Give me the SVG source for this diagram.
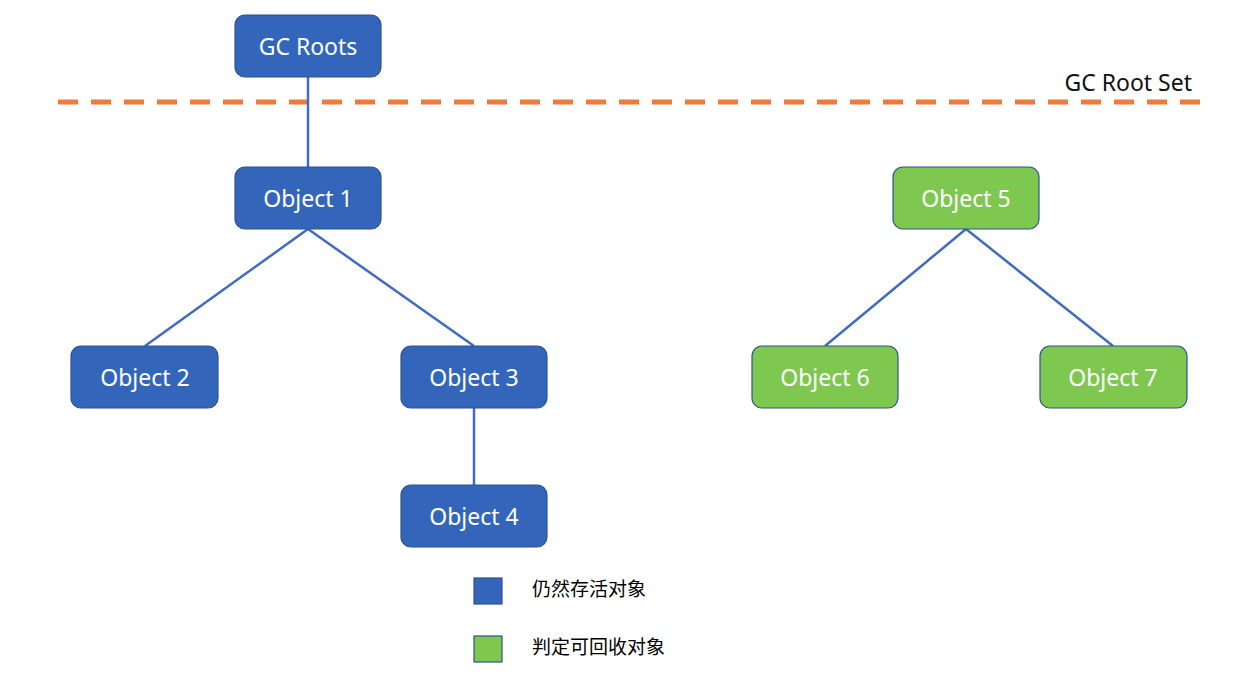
<svg xmlns="http://www.w3.org/2000/svg" width="1257" height="679" viewBox="0 0 1257 679">
<style>
.blue{fill:#3366BB;stroke:#2F528F;stroke-width:1.2}
.green{fill:#7EC850;stroke:#2F528F;stroke-width:1.2}
.lbl{font-family:"Noto Sans","Open Sans",sans-serif;font-size:23px;fill:#fff;text-anchor:middle;dominant-baseline:central}
.leg{font-family:"Noto Sans CJK SC",sans-serif;font-size:19px;fill:#000}
.edge{stroke:#3F6CC0;stroke-width:2.5;fill:none}
</style>
<rect width="1257" height="679" fill="#fff"/>
<line x1="58" y1="102" x2="1205" y2="102" stroke="#F07A38" stroke-width="5" stroke-dasharray="20 13"/>
<text x="1192" y="91" text-anchor="end" font-family="Noto Sans, sans-serif" font-size="23" fill="#111">GC Root Set</text>
<g id="connectors">
<line class="edge" x1="308" y1="77" x2="308" y2="167"/>
<line class="edge" x1="308" y1="229" x2="145" y2="346"/>
<line class="edge" x1="308" y1="229" x2="474" y2="346"/>
<line class="edge" x1="474" y1="408" x2="474" y2="485"/>
<line class="edge" x1="966" y1="229" x2="825" y2="346"/>
<line class="edge" x1="966" y1="229" x2="1113" y2="346"/>
</g>
<g id="gcroots"><rect class="blue" x="235" y="15" width="146" height="62" rx="10"/><text class="lbl" x="308" y="46">GC Roots</text></g>
<g id="obj1"><rect class="blue" x="235" y="167" width="146" height="62" rx="10"/><text class="lbl" x="308" y="198">Object 1</text></g>
<g id="obj2"><rect class="blue" x="71" y="346" width="147" height="62" rx="10"/><text class="lbl" x="145" y="377">Object 2</text></g>
<g id="obj3"><rect class="blue" x="401" y="346" width="146" height="62" rx="10"/><text class="lbl" x="474" y="377">Object 3</text></g>
<g id="obj4"><rect class="blue" x="401" y="485" width="146" height="62" rx="10"/><text class="lbl" x="474" y="516">Object 4</text></g>
<g id="obj5"><rect class="green" x="893" y="167" width="146" height="62" rx="10"/><text class="lbl" x="966" y="198">Object 5</text></g>
<g id="obj6"><rect class="green" x="752" y="346" width="146" height="62" rx="10"/><text class="lbl" x="825" y="377">Object 6</text></g>
<g id="obj7"><rect class="green" x="1040" y="346" width="147" height="62" rx="10"/><text class="lbl" x="1113" y="377">Object 7</text></g>
<g id="legend-alive"><rect class="blue" x="474" y="578" width="28" height="26"/><text class="leg" x="532" y="596">仍然存活对象</text></g>
<g id="legend-collect"><rect class="green" x="474" y="636" width="28" height="26"/><text class="leg" x="532" y="654">判定可回收对象</text></g>
</svg>
